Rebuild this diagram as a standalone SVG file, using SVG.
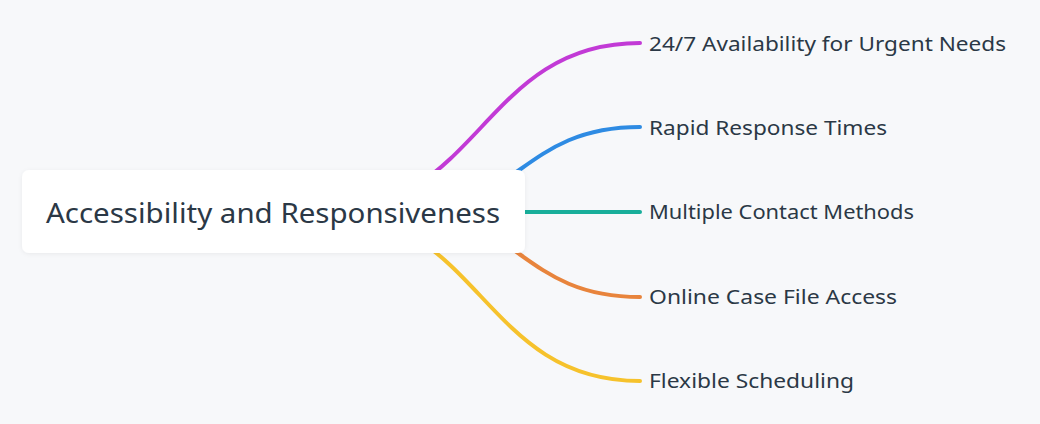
<svg xmlns="http://www.w3.org/2000/svg" width="1040" height="424" viewBox="0 0 1040 424">
<style>
.bg{fill:#f7f8fa}
.link{fill:none;stroke-width:4;stroke-linecap:round}
.lbl{font-family:"Noto Sans","Open Sans",sans-serif;font-size:20px;fill:#2b3846}
.root{font-family:"Noto Sans","Open Sans",sans-serif;font-size:28px;fill:#2b3846}
</style>
<defs>
<filter id="sh" x="-10%" y="-30%" width="120%" height="160%">
<feDropShadow dx="0" dy="1" stdDeviation="2" flood-color="#000" flood-opacity="0.06"/>
</filter>
</defs>
<rect class="bg" x="0" y="0" width="1040" height="424"/>
<g id="connectors">
<path class="link" stroke="#c23ad6" d="M322 212 C481 212 481 43 640 43"/>
<path class="link" stroke="#2e8be3" d="M400 212 C520 212 520 127 640 127"/>
<path class="link" stroke="#18ae9a" d="M470 212 L640 212"/>
<path class="link" stroke="#e8843c" d="M400 212 C520 212 520 297 640 297"/>
<path class="link" stroke="#f6c22c" d="M322 212 C481 212 481 381 640 381"/>
</g>
<g id="root">
<rect x="22" y="170" width="503" height="83" rx="7" fill="#ffffff" filter="url(#sh)"/>
<text class="root" x="46" y="223" textLength="454" lengthAdjust="spacingAndGlyphs">Accessibility and Responsiveness</text>
</g>
<g id="n1"><text class="lbl" x="649" y="51" textLength="357" lengthAdjust="spacingAndGlyphs">24/7 Availability for Urgent Needs</text></g>
<g id="n2"><text class="lbl" x="649" y="135" textLength="238" lengthAdjust="spacingAndGlyphs">Rapid Response Times</text></g>
<g id="n3"><text class="lbl" x="649" y="219" textLength="265" lengthAdjust="spacingAndGlyphs">Multiple Contact Methods</text></g>
<g id="n4"><text class="lbl" x="649" y="304" textLength="248" lengthAdjust="spacingAndGlyphs">Online Case File Access</text></g>
<g id="n5"><text class="lbl" x="649" y="388" textLength="205" lengthAdjust="spacingAndGlyphs">Flexible Scheduling</text></g>
</svg>
